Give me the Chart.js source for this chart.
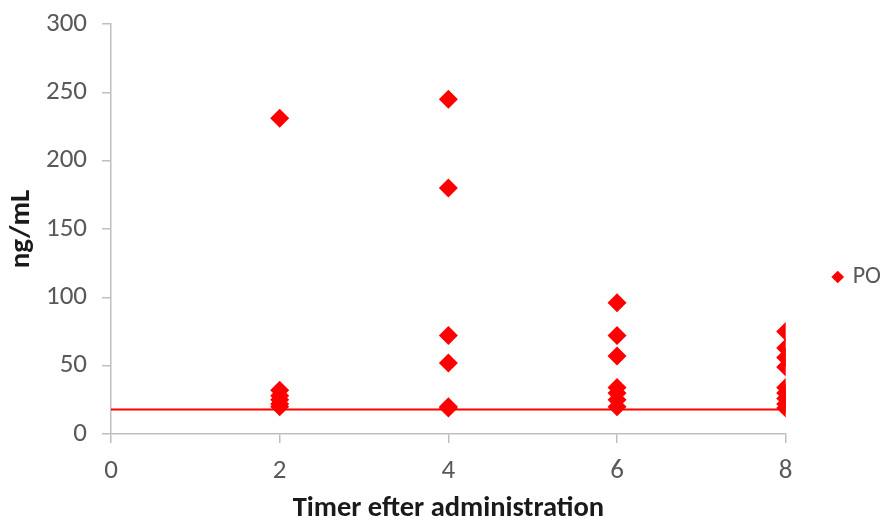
<!DOCTYPE html>
<html>
<head>
<meta charset="utf-8">
<script src="https://cdn.jsdelivr.net/npm/chart.js@4/dist/chart.umd.min.js"></script>
<style>
  html, body { margin: 0; padding: 0; background: #fff; }
  #wrap { width: 882px; height: 520px; }
</style>
</head>
<body>
<div id="wrap"><canvas id="chart"></canvas></div>
<script>
// ─────────────────────────────────────────────────
// Data
// ─────────────────────────────────────────────────
const timesH = [2, 4, 6, 8];
const conc2h = [231, 32, 28, 25, 22, 20];
const conc4h = [245, 180, 72, 52, 20, 19];
const conc6h = [96, 72, 57, 34, 30, 25, 20];
const conc8h = [75, 63, 56, 49, 34, 30, 26, 22, 19];
const limitX = [0, 8];
const limitY = [18, 18];
const xTicks = [0, 2, 4, 6, 8];
const yTicks = [0, 50, 100, 150, 200, 250, 300];

const seriesByTime = [conc2h, conc4h, conc6h, conc8h];
const poPoints = [];
timesH.forEach((t, i) => seriesByTime[i].forEach(v => poPoints.push({ x: t, y: v })));
const limitLine = limitX.map((x, i) => ({ x: x, y: limitY[i] }));

const FONT = 'Carlito, Calibri, "Liberation Sans Narrow", "Open Sans", sans-serif';
const RED = '#ff0000';
const AXIS = '#bfbfbf';

// shift legend to sit where Excel put it
const legendShift = {
    id: 'legendShift',
    afterLayout(chart) {
        const lg = chart.legend;
        if (!lg) return;
        lg.left += 39; lg.right += 39;
        lg.top += 5; lg.bottom += 5;
    }
};

new Chart(document.getElementById('chart'), {
    type: 'scatter',
    data: {
        datasets: [{
            label: 'PO',
            data: poPoints,
            pointStyle: 'rectRot',
            pointRadius: 9.5, pointHoverRadius: 9.5,
            backgroundColor: RED, borderColor: RED, borderWidth: 0,
            order: 1
        }, {
            label: 'limit',
            type: 'line',
            data: limitLine,
            borderColor: RED, borderWidth: 2,
            pointRadius: 0, fill: false,
            order: 2
        }]
    },
    options: {
        responsive: true, maintainAspectRatio: false,
        animation: false,
        layout: { padding: { top: 24, right: 30, left: 0, bottom: 0 } },
        plugins: {
            tooltip: { enabled: false },
            legend: {
                position: 'right',
                labels: {
                    filter: (item) => item.text === 'PO',
                    usePointStyle: true, boxWidth: 6, boxHeight: 9,
                    color: '#595959',
                    font: { family: FONT, size: 24 }
                }
            }
        },
        scales: {
            x: {
                type: 'linear', min: 0, max: 8,
                afterBuildTicks: (s) => { s.ticks = xTicks.map(v => ({ value: v })); },
                afterFit: (s) => { s.height = 86; },
                grid: { display: true, drawOnChartArea: false, drawTicks: true, tickLength: 9, color: AXIS, lineWidth: 1.5 },
                border: { color: AXIS, width: 1.5 },
                ticks: { color: '#595959', padding: 12, font: { family: FONT, size: 27 } },
                title: {
                    display: true, text: 'Timer efter administration', color: '#1a1a1a',
                    padding: { top: 0, bottom: 0 },
                    font: { family: FONT, size: 28.5, weight: 'bold', lineHeight: 0.75 }
                }
            },
            y: {
                min: 0, max: 300,
                afterBuildTicks: (s) => { s.ticks = yTicks.map(v => ({ value: v })); },
                afterFit: (s) => { s.width = 111; s.paddingTop = 0; s.paddingBottom = 0; },
                grid: { display: true, drawOnChartArea: false, drawTicks: true, tickLength: 9, color: AXIS, lineWidth: 1.5 },
                border: { color: AXIS, width: 1.5 },
                ticks: { color: '#595959', padding: 15, font: { family: FONT, size: 27 } },
                title: {
                    display: true, text: 'ng/mL', color: '#1a1a1a',
                    padding: { top: 4, bottom: 0 },
                    font: { family: FONT, size: 29, weight: 'bold' }
                }
            }
        }
    },
    plugins: [legendShift]
});
</script>
</body>
</html>
